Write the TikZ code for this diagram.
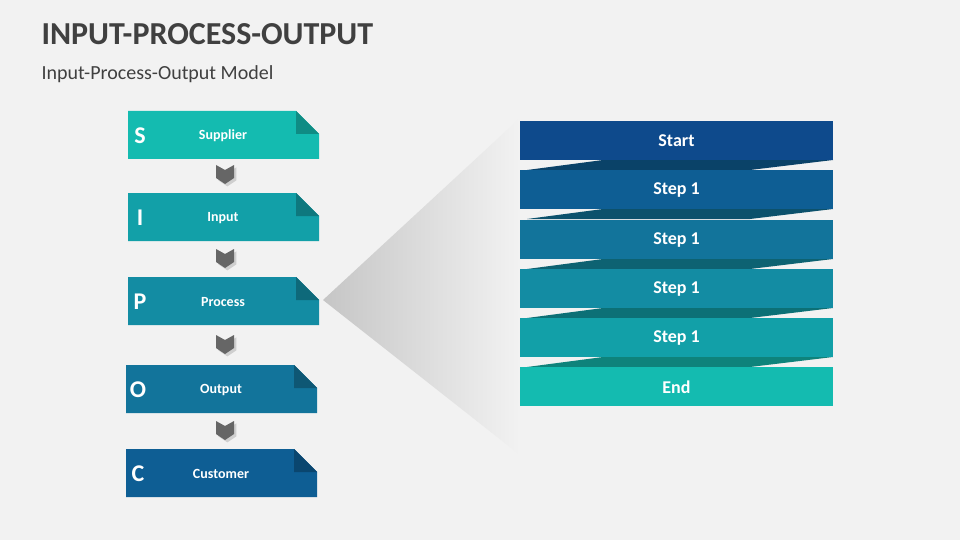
\documentclass[tikz,border=0pt]{standalone}
\usepackage{fontspec}
\setmainfont{Carlito}
\usetikzlibrary{shadows}
\definecolor{c1}{HTML}{14BBB0}
\definecolor{c2}{HTML}{12A0A8}
\definecolor{c3}{HTML}{138CA3}
\definecolor{c4}{HTML}{12749B}
\definecolor{c5}{HTML}{0E5E94}
\definecolor{c6}{HTML}{0E4A8C}
\definecolor{bg}{HTML}{F2F2F2}
\definecolor{tc}{HTML}{404040}
\tikzset{lbl/.style={text=white,font=\fontsize{14}{16}\selectfont\bfseries},
letter/.style={text=white,font=\fontsize{24}{26}\selectfont\bfseries},
steplbl/.style={text=white,font=\fontsize{18}{20}\selectfont\bfseries}}
\begin{document}
\begin{tikzpicture}[x=1pt,y=-1pt]
\fill[bg] (0,0) rectangle (960,540);
\useasboundingbox (0,0) rectangle (960,540);
\node[anchor=west,text=tc,font=\fontsize{32}{34}\selectfont\bfseries] (title) at (38,34) {INPUT-PROCESS-OUTPUT};
\node[anchor=west,text=tc,font=\fontsize{20}{22}\selectfont] (sub) at (38,74) {Input-Process-Output Model};
% funnel
\shade[left color=gray!45,right color=bg] (323,300) -- (520,118) -- (520,455) -- cycle;
% left boxes
\foreach \x/\y/\col/\L/\T/\n in {128/111/c1/S/Supplier/s,128/193/c2/I/Input/i,128/277/c3/P/Process/p,126/365/c4/O/Output/o,126/449/c5/C/Customer/c}{
  \fill[\col] (\x,\y) -- (\x+168,\y) -- (\x+191,\y+23) -- (\x+191,\y+48) -- (\x,\y+48) -- cycle;
  \fill[\col!75!black] (\x+168,\y) -- (\x+191,\y+23) -- (\x+168,\y+23) -- cycle;
  \node[letter] (L\n) at (\x+12,\y+25) {\L};
  \node[lbl] (T\n) at (\x+95,\y+25) {\T};
}
% chevrons
\foreach \y in {165,249,335,421}{
  \fill[gray!80!black,drop shadow={opacity=0.3}] (216,\y) -- (225,\y+5) -- (234,\y) -- (234,\y+13) -- (225,\y+19) -- (216,\y+13) -- cycle;
}
% right stack connectors
\foreach \y/\col in {160/c5,209/c4,259/c3,308/c2,357/c1}{
  \fill[\col!70!black] (527,\y+10) -- (603,\y) -- (833,\y) -- (750,\y+10) -- cycle;
}
\foreach \y/\col/\t/\n in {121/c6/Start/r0,170/c5/Step 1/r1,220/c4/Step 1/r2,269/c3/Step 1/r3,318/c2/Step 1/r4,367/c1/End/r5}{
  \fill[\col] (520,\y) rectangle (833,\y+39);
  \node[steplbl] (\n) at (676.5,\y+20) {\t};
}
\end{tikzpicture}
\end{document}
